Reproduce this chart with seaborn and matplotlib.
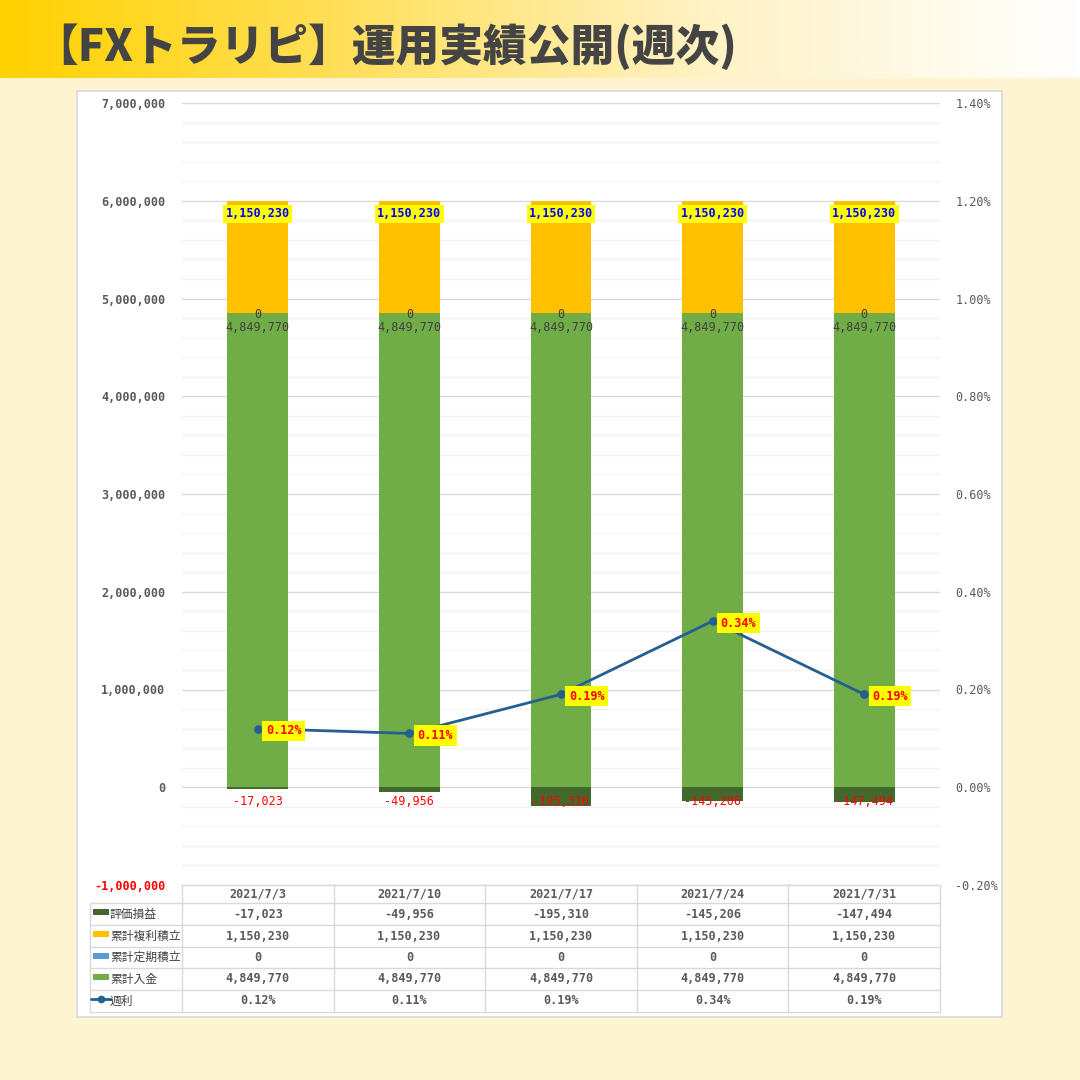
import numpy as np
import pandas as pd
import matplotlib
matplotlib.use('Agg')
import matplotlib.pyplot as plt
import seaborn as sns
from matplotlib.colors import LinearSegmentedColormap
from matplotlib.ticker import FuncFormatter, MultipleLocator

# データ
dates = ['2021/7/3', '2021/7/10', '2021/7/17', '2021/7/24', '2021/7/31']
hyoka = [-17023, -49956, -195310, -145206, -147494]        # 評価損益
fukuri = [1150230, 1150230, 1150230, 1150230, 1150230]     # 累計複利積立
teiki = [0, 0, 0, 0, 0]                                    # 累計定期積立
nyukin = [4849770, 4849770, 4849770, 4849770, 4849770]     # 累計入金
shuri = [0.0012, 0.0011, 0.0019, 0.0034, 0.0019]           # 週利

series_names = ['評価損益', '累計複利積立', '累計定期積立', '累計入金', '週利']

C_NEG = '#43682B'
C_FUK = '#FFC000'
C_TEI = '#5B9BD5'
C_NYU = '#70AD47'
C_LINE = '#255E91'
TXT = '#595959'

sns.set_theme(style='white')
plt.rcParams['font.family'] = ['Noto Sans CJK JP', 'DejaVu Sans']
MONO = ['DejaVu Sans Mono']

W = H = 1080
fig = plt.figure(figsize=(10.8, 10.8), dpi=100)
fig.patch.set_facecolor('#FFF4D2')

# 背景・タイトル・表用のピクセル座標軸
bg = fig.add_axes([0, 0, 1, 1])
bg.set_xlim(0, W)
bg.set_ylim(H, 0)
bg.axis('off')

cmap = LinearSegmentedColormap.from_list('band', ['#FFD200', '#FFE060', '#FFF3C8', '#FFFFFF'])
grad = np.linspace(0, 1, 512).reshape(1, -1)
bg.imshow(grad, cmap=cmap, extent=[0, W, 78, 0], aspect='auto')
bg.set_xlim(0, W)
bg.set_ylim(H, 0)
bg.text(34, 47, '【FXトラリピ】運用実績公開(週次)', fontsize=31.5, fontweight='black',
        color='#444444', va='center', ha='left')

bg.add_patch(plt.Rectangle((77, 91), 925, 926, facecolor='white', edgecolor='#D9D9D9', lw=1.2))

# メイン軸
ax = fig.add_axes([182 / W, 1 - 885 / H, 758 / W, 782 / H])
ax.set_facecolor('none')

tot_top = np.array(nyukin) + np.array(teiki) + np.array(fukuri)
tot_tei = np.array(nyukin) + np.array(teiki)
sns.barplot(x=dates, y=tot_top, color=C_FUK, saturation=1, width=0.4, linewidth=0, ax=ax)
sns.barplot(x=dates, y=tot_tei, color=C_TEI, saturation=1, width=0.4, linewidth=0, ax=ax)
sns.barplot(x=dates, y=nyukin, color=C_NYU, saturation=1, width=0.4, linewidth=0, ax=ax)
sns.barplot(x=dates, y=hyoka, color=C_NEG, saturation=1, width=0.4, linewidth=0, ax=ax)

ax.set_xlim(-0.5, 4.5)
ax.set_ylim(-1000000, 7000000)
ax.yaxis.set_major_locator(MultipleLocator(1000000))
ax.yaxis.set_minor_locator(MultipleLocator(200000))
ax.grid(which='major', axis='y', color='#D9D9D9', lw=1)
ax.grid(which='minor', axis='y', color='#F2F2F2', lw=1)
ax.grid(axis='x', visible=False)
ax.set_axisbelow(True)
ax.yaxis.set_major_formatter(FuncFormatter(lambda v, p: f'{int(v):,}'))
ax.tick_params(axis='x', labelbottom=False, length=0)
ax.tick_params(axis='y', which='both', length=0, pad=12)
ax.set_xlabel('')
ax.set_ylabel('')
for s in ax.spines.values():
    s.set_visible(False)
for lab in ax.get_yticklabels():
    lab.set_family(MONO)
    lab.set_fontsize(8.5)
    lab.set_fontweight('bold')
    lab.set_color(TXT)
    if lab.get_text().startswith('-'):
        lab.set_color('red')

# 第2軸 (週利)
ax2 = ax.twinx()
sns.lineplot(x=np.arange(len(dates)), y=shuri, ax=ax2, color=C_LINE, lw=2,
             marker='o', markersize=5.5, markeredgecolor=C_LINE)
ax2.set_xlim(-0.5, 4.5)
ax2.set_ylim(-0.002, 0.014)
ax2.yaxis.set_major_locator(MultipleLocator(0.002))
ax2.yaxis.set_major_formatter(FuncFormatter(lambda v, p: f'{v * 100:.2f}%'))
ax2.tick_params(axis='y', length=0, pad=11)
ax2.set_ylabel('')
ax2.grid(False)
for s in ax2.spines.values():
    s.set_visible(False)
for lab in ax2.get_yticklabels():
    lab.set_family(MONO)
    lab.set_fontsize(8.5)
    lab.set_color(TXT)

# データラベル
for i in range(len(dates)):
    ax.annotate(f'{fukuri[i]:,}', (i, tot_top[i]), xytext=(0, -13), textcoords='offset pixels',
                ha='center', va='center', family=MONO, fontsize=8.5, fontweight='bold', color='#0000FF',
                bbox=dict(boxstyle='square,pad=0.2', fc='#FFFF00', ec='none'))
    ax.annotate(f'{teiki[i]:,}', (i, tot_tei[i]), xytext=(0, -1), textcoords='offset pixels',
                ha='center', va='center', family=MONO, fontsize=8.5, color='#404040')
    ax.annotate(f'{nyukin[i]:,}', (i, nyukin[i]), xytext=(0, -14), textcoords='offset pixels',
                ha='center', va='center', family=MONO, fontsize=8.5, color='#404040')
    ax.annotate(f'{hyoka[i]:,}', (i, 0), xytext=(0, -14), textcoords='offset pixels',
                ha='center', va='center', family=MONO, fontsize=8.5, color='red')
    ax2.annotate(f'{shuri[i] * 100:.2f}%', (i, shuri[i]), xytext=(8, -2), textcoords='offset pixels',
                 ha='left', va='center', family=MONO, fontsize=8.5, fontweight='bold', color='red',
                 bbox=dict(boxstyle='square,pad=0.3', fc='#FFFF00', ec='none'))

# データテーブル
x0, x1 = 182, 940
lx = 90
cw = (x1 - x0) / len(dates)
rows_y = [885, 903, 925, 947, 968, 990, 1012]
grid_c = '#D9D9D9'
bg.plot([x0, x1], [rows_y[0], rows_y[0]], color=grid_c, lw=1)
for y in rows_y[1:]:
    bg.plot([lx, x1], [y, y], color=grid_c, lw=1)
bg.plot([lx, lx], [rows_y[1], rows_y[-1]], color=grid_c, lw=1)
for j in range(len(dates) + 1):
    xx = x0 + j * cw
    bg.plot([xx, xx], [rows_y[0], rows_y[-1]], color=grid_c, lw=1)

for j, d in enumerate(dates):
    cx = x0 + (j + 0.5) * cw
    bg.text(cx, (rows_y[0] + rows_y[1]) / 2, d, ha='center', va='center',
            family=MONO, fontsize=8.5, fontweight='bold', color=TXT)

table_vals = [
    [f'{v:,}' for v in hyoka],
    [f'{v:,}' for v in fukuri],
    [f'{v:,}' for v in teiki],
    [f'{v:,}' for v in nyukin],
    [f'{v * 100:.2f}%' for v in shuri],
]
sw_colors = [C_NEG, C_FUK, C_TEI, C_NYU, None]
for r in range(5):
    cy = (rows_y[r + 1] + rows_y[r + 2]) / 2
    if sw_colors[r] is not None:
        bg.add_patch(plt.Rectangle((93, cy - 5), 16, 6, facecolor=sw_colors[r], edgecolor='none'))
    else:
        bg.plot([91, 111], [cy - 2, cy - 2], color=C_LINE, lw=2)
        bg.plot([101], [cy - 2], marker='o', color=C_LINE, markersize=4.5)
    bg.text(110, cy, series_names[r], ha='left', va='center', fontsize=8.5, color='#404040')
    for j in range(len(dates)):
        cx = x0 + (j + 0.5) * cw
        bg.text(cx, cy, table_vals[r][j], ha='center', va='center',
                family=MONO, fontsize=8.5, fontweight='bold', color=TXT)

fig.savefig('out.png', dpi=100, facecolor=fig.get_facecolor())
